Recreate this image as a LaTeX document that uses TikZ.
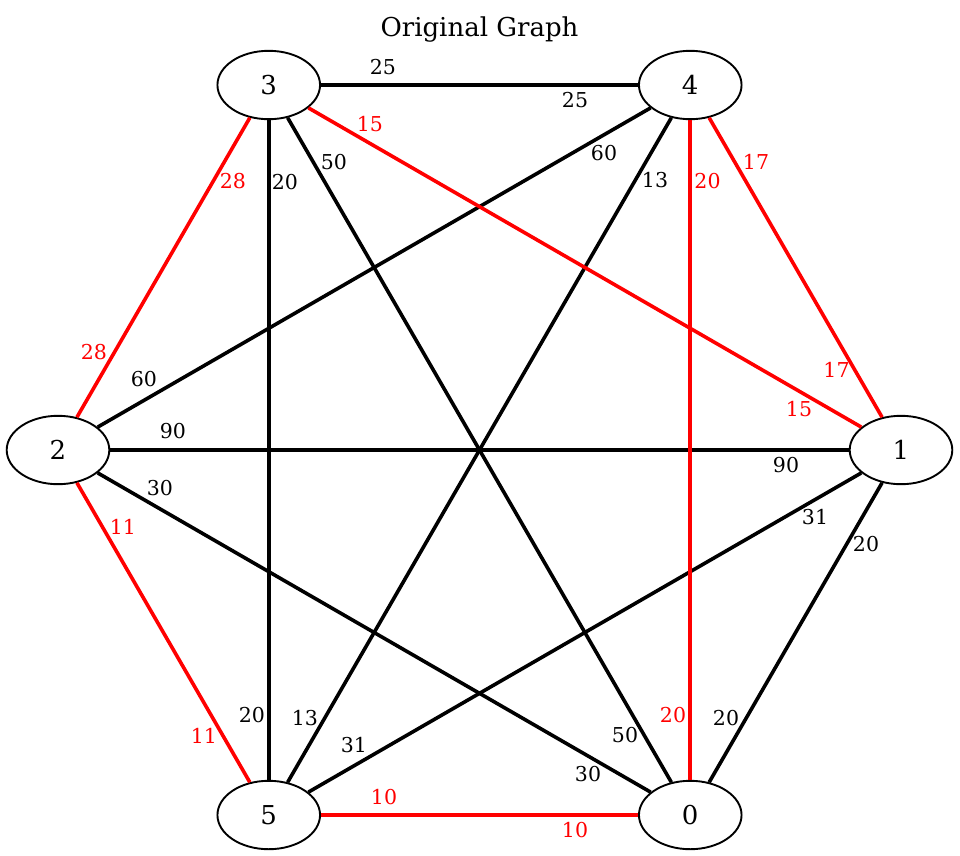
\documentclass[tikz,border=0pt]{standalone}
\usepackage{fontspec}
\setmainfont{DejaVu Serif}
\usetikzlibrary{shapes.geometric}
\begin{document}
\begin{tikzpicture}[x=1bp,y=-1bp,
  vert/.style={draw, ellipse, line width=1.9bp, minimum width=102.6bp, minimum height=68.4bp, inner sep=0pt, font=\fontsize{26bp}{30bp}\selectfont},
  edge/.style={line width=3.6bp, draw=black},
  redge/.style={line width=3.6bp, draw=red},
  lbl/.style={inner sep=0pt, font=\fontsize{20.5bp}{24bp}\selectfont},
  rlbl/.style={lbl, text=red}]
\useasboundingbox (0,0) rectangle (960,856);
\node[inner sep=0pt, anchor=base, font=\fontsize{26bp}{30bp}\selectfont] (title) at (479.5,36) {Original Graph};
\node[vert] (n3) at (268.75,85) {3};
\node[vert] (n4) at (690.25,85) {4};
\node[vert] (n2) at (58,450) {2};
\node[vert] (n1) at (901,450) {1};
\node[vert] (n5) at (268.75,815) {5};
\node[vert] (n0) at (690.25,815) {0};
% black edges
\draw[edge] (n3) -- (n4);
\draw[edge] (n3) -- (n5);
\draw[edge] (n3) -- (n0);
\draw[edge] (n4) -- (n2);
\draw[edge] (n4) -- (n5);
\draw[edge] (n2) -- (n1);
\draw[edge] (n2) -- (n0);
\draw[edge] (n1) -- (n5);
\draw[edge] (n1) -- (n0);
% red edges
\draw[redge] (n3) -- (n1);
\draw[redge] (n3) -- (n2);
\draw[redge] (n4) -- (n0);
\draw[redge] (n4) -- (n1);
\draw[redge] (n2) -- (n5);
\draw[redge] (n5) -- (n0);
% black labels
\node[lbl] (l34a) at (383,67) {25};
\node[lbl] (l34b) at (575,100) {25};
\node[lbl] (l35a) at (285,182) {20};
\node[lbl] (l35b) at (252,715) {20};
\node[lbl] (l30a) at (334,162) {50};
\node[lbl] (l30b) at (625,735) {50};
\node[lbl] (l42a) at (604,153) {60};
\node[lbl] (l42b) at (144,379) {60};
\node[lbl] (l45a) at (655,180) {13};
\node[lbl] (l45b) at (305,718) {13};
\node[lbl] (l21a) at (173,431) {90};
\node[lbl] (l21b) at (786,465) {90};
\node[lbl] (l20a) at (160,488) {30};
\node[lbl] (l20b) at (588,774) {30};
\node[lbl] (l15a) at (815,517) {31};
\node[lbl] (l15b) at (354,745) {31};
\node[lbl] (l10a) at (866,544) {20};
\node[lbl] (l10b) at (726,718) {20};
% red labels
\node[rlbl] (l31a) at (370,124) {15};
\node[rlbl] (l31b) at (799,409) {15};
\node[rlbl] (l32a) at (233,181) {28};
\node[rlbl] (l32b) at (94,352) {28};
\node[rlbl] (l40a) at (707.5,181) {20};
\node[rlbl] (l40b) at (673,715) {20};
\node[rlbl] (l41a) at (756,162) {17};
\node[rlbl] (l41b) at (836.5,370) {17};
\node[rlbl] (l25a) at (123,527) {11};
\node[rlbl] (l25b) at (204,736) {11};
\node[rlbl] (l50a) at (384,797) {10};
\node[rlbl] (l50b) at (575,830) {10};
\end{tikzpicture}
\end{document}
